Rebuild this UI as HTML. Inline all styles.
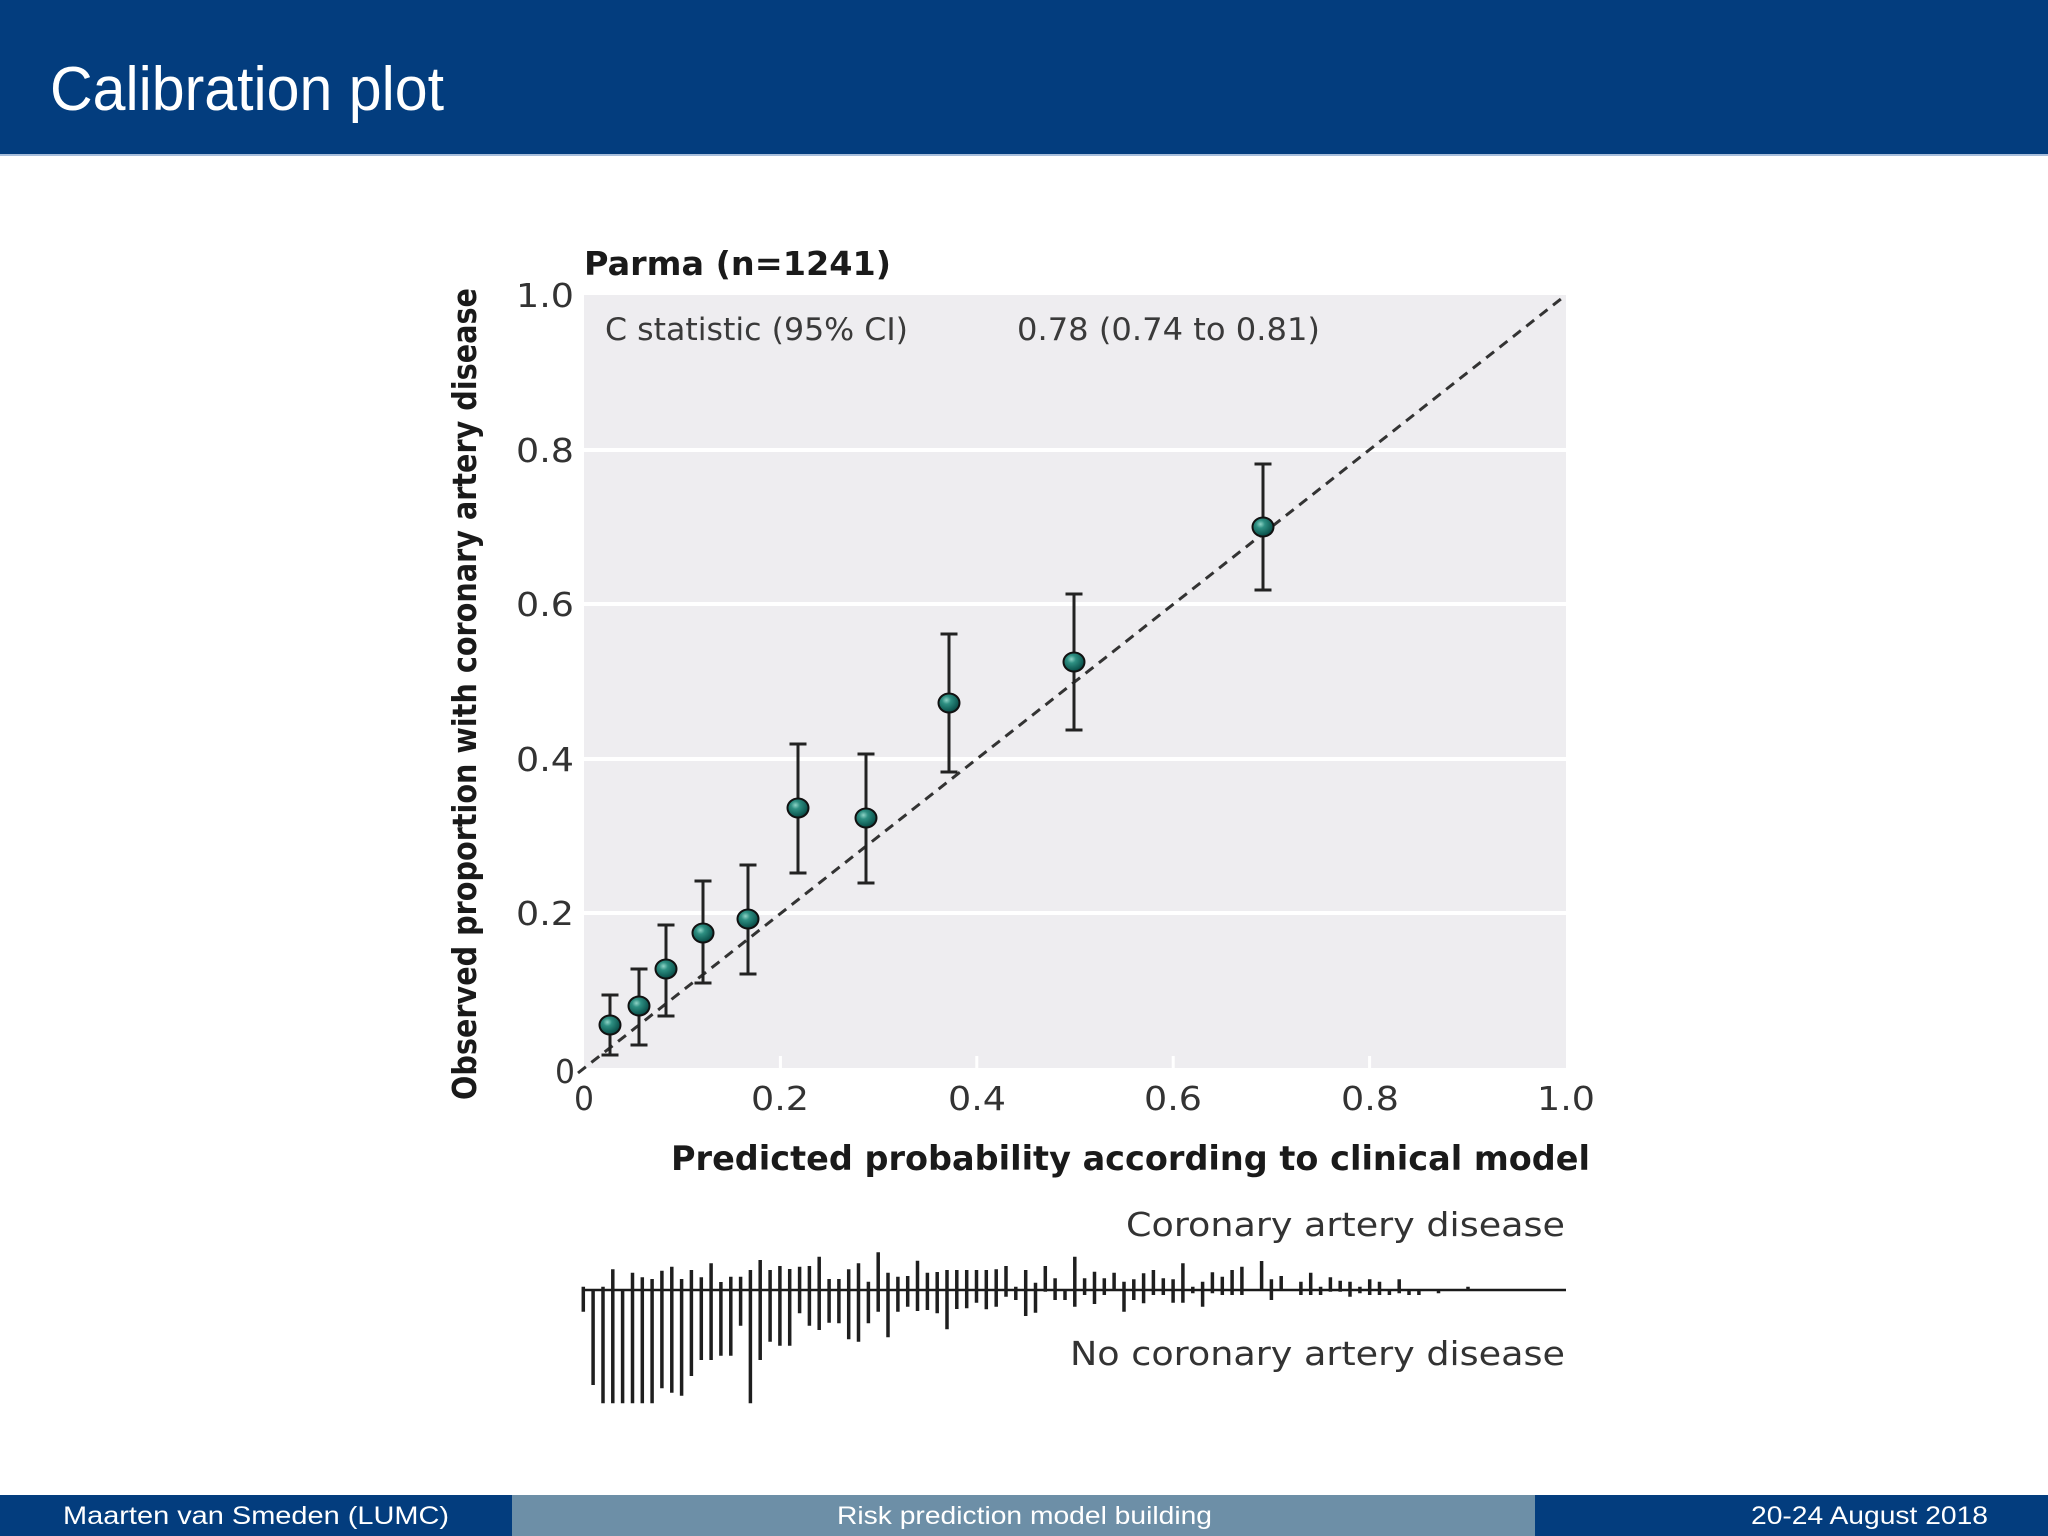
<!DOCTYPE html>
<html>
<head>
<meta charset="utf-8">
<style>
  html, body { margin: 0; padding: 0; background: #ffffff; }
  body { width: 2048px; height: 1536px; overflow: hidden; }
  svg { display: block; }
</style>
</head>
<body>
<svg width="2048" height="1536" viewBox="0 0 2048 1536" xmlns="http://www.w3.org/2000/svg">
  <defs>
    <radialGradient id="ball" cx="0.38" cy="0.35" r="0.7">
      <stop offset="0" stop-color="#8fd3c6"/>
      <stop offset="0.3" stop-color="#2e8f82"/>
      <stop offset="0.8" stop-color="#0f5a53"/>
      <stop offset="1" stop-color="#083c38"/>
    </radialGradient>
  </defs>

  <!-- Header -->
  <rect x="0" y="0" width="2048" height="154" fill="#033d7e"/>
  <rect x="0" y="154" width="2048" height="2" fill="#a8bedb"/>
  <text x="50" y="110" font-family="Liberation Sans, sans-serif" font-size="62" fill="#ffffff" textLength="394" lengthAdjust="spacingAndGlyphs">Calibration plot</text>

  <!-- Plot background -->
  <rect x="584" y="295" width="982" height="773" fill="#eeedf0"/>
  <!-- gridlines -->
  <g stroke="#ffffff" stroke-width="4">
    <line x1="584" y1="450" x2="1566" y2="450"/>
    <line x1="584" y1="604" x2="1566" y2="604"/>
    <line x1="584" y1="759" x2="1566" y2="759"/>
    <line x1="584" y1="913" x2="1566" y2="913"/>
  </g>
  <g stroke="#ffffff" stroke-width="3">
    <line x1="780.4" y1="1056" x2="780.4" y2="1068"/>
    <line x1="976.8" y1="1056" x2="976.8" y2="1068"/>
    <line x1="1173.2" y1="1056" x2="1173.2" y2="1068"/>
    <line x1="1369.6" y1="1056" x2="1369.6" y2="1068"/>
  </g>

  <!-- diagonal -->
  <line x1="578" y1="1073" x2="1566" y2="295" stroke="#333333" stroke-width="3" stroke-dasharray="10 7"/>

  <!-- Title -->
  <text x="584" y="275" font-family="DejaVu Sans, sans-serif" font-weight="bold" font-size="33" fill="#1a1a1a" textLength="307" lengthAdjust="spacingAndGlyphs">Parma (n=1241)</text>

  <!-- C statistic -->
  <text x="605" y="340" font-family="DejaVu Sans, sans-serif" font-size="31" fill="#3a3a3a" textLength="303" lengthAdjust="spacingAndGlyphs">C statistic (95% CI)</text>
  <text x="1017" y="340" font-family="DejaVu Sans, sans-serif" font-size="31" fill="#3a3a3a" textLength="303" lengthAdjust="spacingAndGlyphs">0.78 (0.74 to 0.81)</text>

  <!-- Y tick labels -->
  <g font-family="DejaVu Sans, sans-serif" font-size="33" fill="#333333" text-anchor="end">
    <text x="574" y="307" textLength="58" lengthAdjust="spacingAndGlyphs">1.0</text>
    <text x="574" y="462" textLength="58" lengthAdjust="spacingAndGlyphs">0.8</text>
    <text x="574" y="616" textLength="58" lengthAdjust="spacingAndGlyphs">0.6</text>
    <text x="574" y="771" textLength="58" lengthAdjust="spacingAndGlyphs">0.4</text>
    <text x="574" y="925" textLength="58" lengthAdjust="spacingAndGlyphs">0.2</text>
    <text x="575" y="1083" textLength="20" lengthAdjust="spacingAndGlyphs">0</text>
  </g>
  <!-- X tick labels -->
  <g font-family="DejaVu Sans, sans-serif" font-size="33" fill="#333333" text-anchor="middle">
    <text x="584" y="1110" textLength="20" lengthAdjust="spacingAndGlyphs">0</text>
    <text x="780" y="1110" textLength="58" lengthAdjust="spacingAndGlyphs">0.2</text>
    <text x="977" y="1110" textLength="58" lengthAdjust="spacingAndGlyphs">0.4</text>
    <text x="1173" y="1110" textLength="58" lengthAdjust="spacingAndGlyphs">0.6</text>
    <text x="1370" y="1110" textLength="58" lengthAdjust="spacingAndGlyphs">0.8</text>
    <text x="1566" y="1110" textLength="58" lengthAdjust="spacingAndGlyphs">1.0</text>
  </g>

  <!-- Axis titles -->
  <text x="671" y="1170" font-family="DejaVu Sans, sans-serif" font-weight="bold" font-size="33.5" fill="#1a1a1a" textLength="919" lengthAdjust="spacingAndGlyphs">Predicted probability according to clinical model</text>
  <text transform="translate(476,694) rotate(-90)" text-anchor="middle" font-family="DejaVu Sans, sans-serif" font-weight="bold" font-size="33" fill="#1a1a1a" textLength="812" lengthAdjust="spacingAndGlyphs">Observed proportion with coronary artery disease</text>

  <!-- Error bars -->
  <g stroke="#222222" stroke-width="3" fill="none">
    <path d="M610 995V1055M601.5 995H618.5M601.5 1055H618.5"/>
    <path d="M639 969V1045M630.5 969H647.5M630.5 1045H647.5"/>
    <path d="M666 925V1016M657.5 925H674.5M657.5 1016H674.5"/>
    <path d="M703 881V983M694.5 881H711.5M694.5 983H711.5"/>
    <path d="M748 865V974M739.5 865H756.5M739.5 974H756.5"/>
    <path d="M798 744V873M789.5 744H806.5M789.5 873H806.5"/>
    <path d="M866 754V883M857.5 754H874.5M857.5 883H874.5"/>
    <path d="M949 634V772M940.5 634H957.5M940.5 772H957.5"/>
    <path d="M1074 594V730M1065.5 594H1082.5M1065.5 730H1082.5"/>
    <path d="M1263 464V590M1254.5 464H1271.5M1254.5 590H1271.5"/>
  </g>
  <!-- Markers -->
  <g fill="url(#ball)" stroke="#111111" stroke-width="2">
    <ellipse cx="610" cy="1025" rx="10.5" ry="9.5"/>
    <ellipse cx="639" cy="1006" rx="10.5" ry="9.5"/>
    <ellipse cx="666" cy="969" rx="10.5" ry="9.5"/>
    <ellipse cx="703" cy="933" rx="10.5" ry="9.5"/>
    <ellipse cx="748" cy="919" rx="10.5" ry="9.5"/>
    <ellipse cx="798" cy="808" rx="10.5" ry="9.5"/>
    <ellipse cx="866" cy="818" rx="10.5" ry="9.5"/>
    <ellipse cx="949" cy="703" rx="10.5" ry="9.5"/>
    <ellipse cx="1074" cy="662" rx="10.5" ry="9.5"/>
    <ellipse cx="1263" cy="527" rx="10.5" ry="9.5"/>
  </g>

  <!-- Rug labels -->
  <text x="1565" y="1236" text-anchor="end" font-family="DejaVu Sans, sans-serif" font-size="33" fill="#333333" textLength="439" lengthAdjust="spacingAndGlyphs">Coronary artery disease</text>
  <text x="1565" y="1365" text-anchor="end" font-family="DejaVu Sans, sans-serif" font-size="33" fill="#333333" textLength="495" lengthAdjust="spacingAndGlyphs">No coronary artery disease</text>

  <!-- Rug -->
  <line x1="582" y1="1290" x2="1566" y2="1290" stroke="#1a1a1a" stroke-width="2.5"/>
  <path stroke="#1e1e1e" stroke-width="3.5" fill="none" d="
M583.3 1286.7V1311.7
M593.1 1290V1385
M603.0 1286.7V1403.3
M612.8 1269.3V1403.3
M622.6 1290V1403.3
M632.5 1272.7V1403.3
M642.3 1277.3V1403.3
M652.1 1279V1403.3
M661.9 1270.7V1388.3
M671.8 1266.7V1392.7
M681.6 1279V1395.7
M691.4 1270V1376
M701.3 1277.3V1360
M711.1 1263.3V1360
M720.9 1282V1355.7
M730.8 1276.7V1355.7
M740.6 1276.7V1325.7
M750.4 1270V1403.3
M760.2 1260V1360
M770.1 1270V1341.7
M779.9 1266V1345.7
M789.7 1269V1345.7
M799.6 1266.7V1313.3
M809.4 1266V1325.7
M819.2 1256.7V1330
M829.1 1279V1322.7
M838.9 1279V1323.3
M848.7 1269.3V1339.3
M858.5 1263.3V1341.7
M868.4 1281.7V1323.3
M878.2 1252.3V1311.7
M888.0 1272.7V1337.3
M897.9 1276.7V1311.7
M907.7 1276V1306.7
M917.5 1260.7V1311
M927.4 1272.7V1310
M937.2 1272V1313.3
M947.0 1270V1329.3
M956.8 1270V1309
M966.7 1270V1308.3
M976.5 1270V1302.7
M986.3 1270V1309.3
M996.2 1269.3V1306.7
M1006.0 1266V1296.7
M1015.8 1286.7V1300
M1025.7 1270V1316
M1035.5 1282.7V1312.7
M1045.3 1266V1291.7
M1055.1 1278.3V1300
M1065.0 1289.3V1300
M1074.8 1256.7V1306.7
M1084.6 1278.3V1295
M1094.5 1271.7V1304
M1104.3 1278.3V1295
M1114.1 1272.7V1290
M1124.0 1281.7V1311.7
M1133.8 1279.3V1300
M1143.6 1273.3V1303.3
M1153.4 1270V1295
M1163.3 1278.3V1295
M1173.1 1279.3V1302.7
M1182.9 1263.3V1302.7
M1192.8 1286.7V1293.3
M1202.6 1281.7V1306.7
M1212.4 1272.3V1293.3
M1222.3 1276.7V1295
M1232.1 1270V1295
M1241.9 1266.7V1295
M1261.6 1261V1290
M1271.4 1279.3V1300
M1281.2 1276V1290
M1300.9 1281.7V1295
M1310.7 1272.7V1295
M1320.6 1286.7V1295
M1330.4 1277.3V1291.7
M1340.2 1280.7V1291.7
M1350.0 1281.7V1296.7
M1359.9 1286.7V1293.3
M1369.7 1279.3V1295
M1379.5 1281.7V1295
M1389.4 1289.3V1295
M1399.2 1279.3V1293.3
M1409.0 1290V1295
M1418.9 1290V1295
M1438.5 1290V1293.3
M1468.0 1286.7V1290
"/>

  <!-- Footer -->
  <rect x="0" y="1495" width="512" height="41" fill="#033d7e"/>
  <rect x="512" y="1495" width="1023" height="41" fill="#6d8fa7"/>
  <rect x="1535" y="1495" width="513" height="41" fill="#033d7e"/>
  <g font-family="Liberation Sans, sans-serif" font-size="25" fill="#ffffff">
    <text x="63" y="1524" textLength="386" lengthAdjust="spacingAndGlyphs">Maarten van Smeden  (LUMC)</text>
    <text x="837" y="1524" textLength="375" lengthAdjust="spacingAndGlyphs">Risk prediction model building</text>
    <text x="1751" y="1524" textLength="237" lengthAdjust="spacingAndGlyphs">20-24 August 2018</text>
  </g>
</svg>
</body>
</html>
